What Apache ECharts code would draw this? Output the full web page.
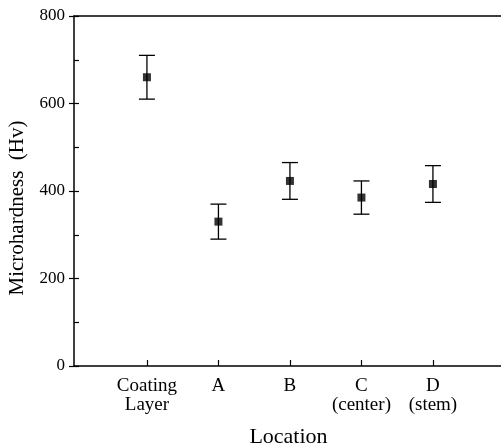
<!DOCTYPE html>
<html><head><meta charset="utf-8">
<script src="https://cdn.jsdelivr.net/npm/echarts@6/dist/echarts.min.js"></script>
<style>html,body{margin:0;padding:0;background:#fff}#c{width:501px;height:448px}</style>
</head><body><div id="c"></div>
<script>
var categories = ['Coating\nLayer', 'A', 'B', 'C\n(center)', 'D\n(stem)'];
var means = [660, 330, 423, 385, 416];
var errors = [50, 40, 42, 38, 42];
var yTicks = [0, 200, 400, 600, 800];

var pts = means.map(function (m, i) { return [i, m]; });
var bars = means.map(function (m, i) { return [i, m - errors[i], m + errors[i]]; });
var catIdx = categories.map(function (c, i) { return i; });
var font = 'Liberation Serif';
var chart = echarts.init(document.getElementById('c'));
chart.setOption({
  animation: false,
  grid: { left: 74, right: -2, top: 16, bottom: 82, containLabel: false, outerBoundsMode: 'none' },
  xAxis: [{
    type: 'value', min: -1.02, max: 4.98,
    name: 'Location', nameLocation: 'middle', nameGap: 60,
    nameTextStyle: { fontFamily: font, fontSize: 22, color: '#000' },
    axisLine: { show: true, lineStyle: { color: '#000', width: 1.5 } },
    axisTick: { show: true, inside: true, length: 6, customValues: catIdx, lineStyle: { color: '#000', width: 1.2 } },
    axisLabel: { margin: 11, fontFamily: font, fontSize: 19, color: '#000', lineHeight: 19, customValues: catIdx,
      formatter: function (v) { return (v >= 0 && v < categories.length) ? categories[v] : ''; } },
    splitLine: { show: false }
  }, {
    type: 'value', position: 'top', min: -1.02, max: 4.98,
    axisLine: { show: true, onZero: false, lineStyle: { color: '#000', width: 1.5 } },
    axisTick: { show: false }, axisLabel: { show: false }, splitLine: { show: false }
  }],
  yAxis: [{
    type: 'value', min: 0, max: 800, interval: 200,
    name: 'Microhardness  (Hv)', nameLocation: 'middle', nameGap: 46,
    nameTextStyle: { fontFamily: font, fontSize: 21, color: '#000', padding: [0, 34, 0, 0] },
    axisLine: { show: true, onZero: false, lineStyle: { color: '#000', width: 1.5 } },
    axisTick: { show: true, inside: false, length: 5, lineStyle: { color: '#000', width: 1.2 } },
    axisLabel: { margin: 9, fontFamily: font, fontSize: 17, color: '#000',
      formatter: function (v) { return yTicks.indexOf(v) >= 0 ? String(v) : ''; } },
    splitLine: { show: false }
  }, {
    type: 'value', min: 0, max: 800, interval: 100, position: 'left',
    axisLine: { show: false, onZero: false },
    axisTick: { show: true, inside: true, length: 5, lineStyle: { color: '#000', width: 1.2 } },
    axisLabel: { show: false }, splitLine: { show: false }
  }],
  series: [{
    type: 'custom', xAxisIndex: 0, yAxisIndex: 0,
    data: bars,
    renderItem: function (params, api) {
      var lo = api.coord([api.value(0), api.value(1)]);
      var hi = api.coord([api.value(0), api.value(2)]);
      var w = 8;
      var st = { stroke: '#000', lineWidth: 1.3 };
      return { type: 'group', children: [
        { type: 'line', shape: { x1: lo[0], y1: lo[1], x2: hi[0], y2: hi[1] }, style: st },
        { type: 'line', shape: { x1: lo[0] - w, y1: lo[1], x2: lo[0] + w, y2: lo[1] }, style: st },
        { type: 'line', shape: { x1: hi[0] - w, y1: hi[1], x2: hi[0] + w, y2: hi[1] }, style: st }
      ] };
    }
  }, {
    type: 'scatter', xAxisIndex: 0, yAxisIndex: 0,
    data: pts, symbol: 'rect', symbolSize: 8,
    itemStyle: { color: '#000' }
  }]
});
</script></body></html>
